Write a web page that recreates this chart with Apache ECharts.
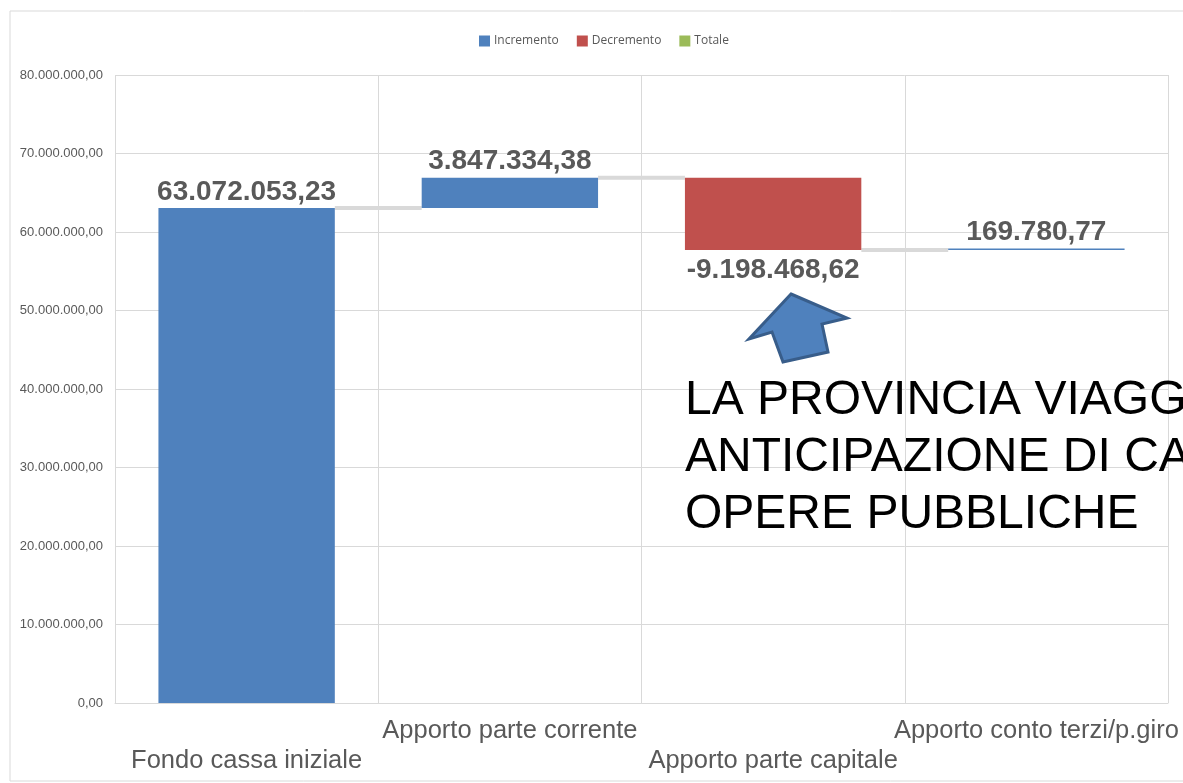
<!DOCTYPE html>
<html>
<head>
<meta charset="utf-8">
<script src="https://cdn.jsdelivr.net/npm/echarts@6/dist/echarts.min.js"></script>
<style>
  html, body { margin: 0; padding: 0; background: #fff; }
  #chart { width: 1183px; height: 783px; }
</style>
</head>
<body>
<div id="chart"></div>
<script>
// voci del prospetto di cassa
let categories = ['Fondo cassa iniziale', 'Apporto parte corrente', 'Apporto parte capitale', 'Apporto conto terzi/p.giro'];
// variazioni (positive = incremento, negative = decremento)
let changes = [63072053.23, 3847334.38, -9198468.62, 169780.77];
let yTicks = [0, 10000000, 20000000, 30000000, 40000000, 50000000, 60000000, 70000000, 80000000];

// formato italiano 1.234.567,89
function fmtIt(v) {
    let neg = v < 0;
    let parts = Math.abs(v).toFixed(2).split('.');
    let int = parts[0].replace(/\B(?=(\d{3})+(?!\d))/g, '.');
    return (neg ? '-' : '') + int + ',' + parts[1];
}

// base invisibile + incrementi/decrementi
let base = [], incr = [], decr = [], levels = [];
let running = 0;
changes.forEach((c, i) => {
    if (c >= 0) {
        base.push(running);
        incr.push(c);
        decr.push('-');
        running += c;
    } else {
        running += c;
        base.push(running);
        incr.push('-');
        decr.push(-c);
    }
    levels.push(running);
});

let labelStyle = {
    show: true,
    fontFamily: 'Liberation Sans, Arial, sans-serif',
    fontWeight: 'bold',
    fontSize: 28,
    color: '#595959'
};

let chart = echarts.init(document.getElementById('chart'), null, { renderer: 'canvas' });

let option = {
    animation: false,
    backgroundColor: '#fff',
    textStyle: { fontFamily: 'Liberation Sans, Arial, sans-serif' },
    legend: {
        top: 30,
        left: 474,
        itemWidth: 11,
        itemHeight: 11,
        itemGap: 18,
        icon: 'rect',
        data: ['Incremento', 'Decremento', 'Totale'],
        textStyle: { fontFamily: 'Open Sans, sans-serif', fontSize: 12, color: '#595959', padding: [0, 0, 0, -1] }
    },
    grid: { left: 115, right: 15, top: 75, bottom: 80 },
    xAxis: {
        type: 'category',
        data: categories,
        axisTick: { show: false },
        axisLine: { lineStyle: { color: '#d9d9d9', width: 1 } },
        splitLine: { show: true, lineStyle: { color: '#d9d9d9', width: 1 } },
        axisLabel: {
            interval: 0,
            margin: 13,
            fontSize: 25.5,
            color: '#595959',
            lineHeight: 30,
            fontFamily: 'Liberation Sans, Arial, sans-serif',
            formatter: (v, i) => (i % 2 === 0 ? '\n' + v : v)
        }
    },
    yAxis: {
        type: 'value',
        min: yTicks[0],
        max: yTicks[yTicks.length - 1],
        interval: yTicks[1] - yTicks[0],
        axisLine: { show: false },
        axisTick: { show: false },
        splitLine: { lineStyle: { color: '#d9d9d9', width: 1 } },
        axisLabel: {
            margin: 12,
            fontSize: 13,
            color: '#595959',
            fontFamily: 'Liberation Sans, Arial, sans-serif',
            formatter: v => fmtIt(v)
        }
    },
    series: [
        {
            name: 'base',
            type: 'bar',
            stack: 'w',
            barWidth: '67%',
            itemStyle: { color: 'transparent' },
            emphasis: { disabled: true },
            data: base
        },
        {
            name: 'Incremento',
            type: 'bar',
            stack: 'w',
            barWidth: '67%',
            itemStyle: { color: '#4f81bd' },
            label: Object.assign({}, labelStyle, {
                position: 'top',
                distance: 2,
                formatter: p => fmtIt(p.value)
            }),
            data: incr
        },
        {
            name: 'Decremento',
            type: 'bar',
            stack: 'w',
            barWidth: '67%',
            itemStyle: { color: '#c0504d' },
            label: Object.assign({}, labelStyle, {
                position: 'bottom',
                distance: 6,
                formatter: p => fmtIt(-p.value)
            }),
            data: decr
        },
        {
            name: 'Totale',
            type: 'bar',
            stack: 'w',
            barWidth: '67%',
            itemStyle: { color: '#9bbb59' },
            data: categories.map(() => '-')
        },
        {
            // linee di raccordo tra le barre
            name: 'raccordi',
            type: 'custom',
            silent: true,
            z: 1,
            data: levels.slice(0, -1).map((v, i) => [i, v]),
            renderItem: (params, api) => {
                let p = api.coord([api.value(0), api.value(1)]);
                let q = api.coord([api.value(0) + 1, api.value(1)]);
                let bw = api.size([1, 0])[0] * 0.67;
                return {
                    type: 'line',
                    shape: { x1: p[0] + bw / 2, y1: p[1], x2: q[0] - bw / 2, y2: q[1] },
                    style: { stroke: '#d9d9d9', lineWidth: 4 }
                };
            }
        }
    ],
    graphic: [
        {
            type: 'rect',
            shape: { x: 10, y: 11, width: 1190, height: 770 },
            style: { fill: 'none', stroke: '#d9d9d9', lineWidth: 1 },
            silent: true,
            z: -10
        },
        {
            type: 'polygon',
            shape: {
                points: [[791, 294], [847, 318], [822, 324], [828, 352], [783, 362], [772, 332], [749, 339]]
            },
            style: { fill: '#4f81bd', stroke: '#385d8a', lineWidth: 3, lineJoin: 'miter' },
            z: 100
        },
        {
            type: 'text',
            left: 685,
            top: 372,
            style: {
                text: 'LA PROVINCIA VIAGGIA\nANTICIPAZIONE DI CASSA\nOPERE PUBBLICHE',
                fontFamily: 'Liberation Sans, Arial, sans-serif',
                fontSize: 48,
                lineHeight: 57,
                fill: '#000'
            },
            z: 100
        }
    ]
};

chart.setOption(option);
</script>
</body>
</html>
